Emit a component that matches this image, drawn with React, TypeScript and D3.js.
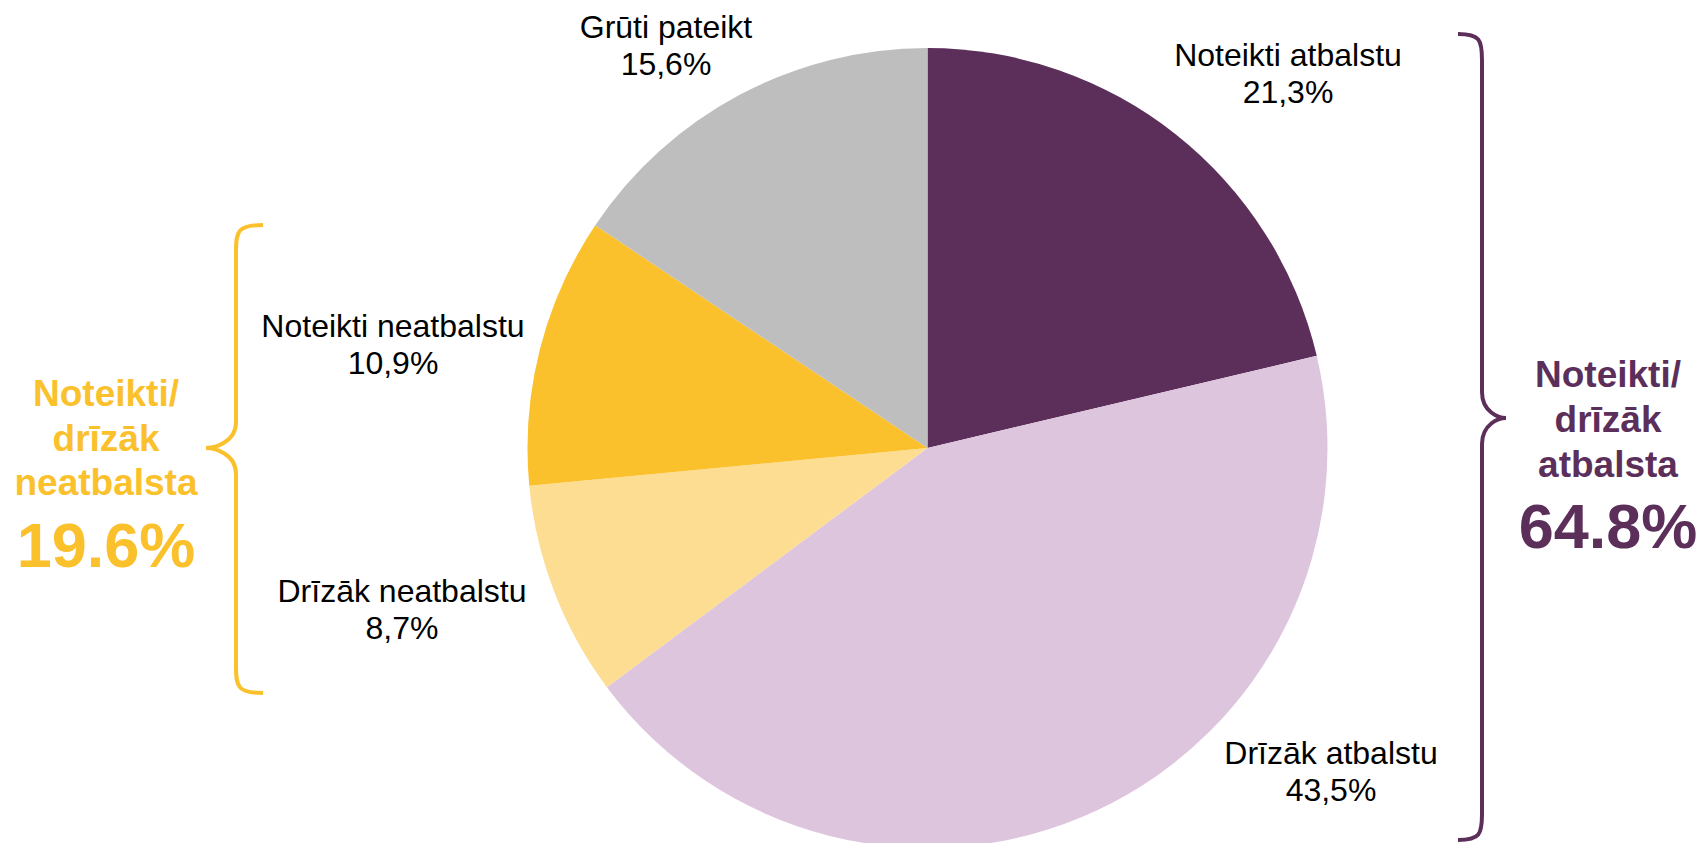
import React from "react";
import * as d3 from "d3";

// ---- data ----
const categories = [
  "Noteikti atbalstu",
  "Drīzāk atbalstu",
  "Drīzāk neatbalstu",
  "Noteikti neatbalstu",
  "Grūti pateikt",
];
const values = [21.3, 43.5, 8.7, 10.9, 15.6];
const valueLabels = ["21,3%", "43,5%", "8,7%", "10,9%", "15,6%"];
const groupSupportLines = ["Noteikti/", "drīzāk", "atbalsta"];
const groupSupportTotal = "64.8%";
const groupOpposeLines = ["Noteikti/", "drīzāk", "neatbalsta"];
const groupOpposeTotal = "19.6%";

// ---- styling / layout ----
const W = 1704;
const H = 843;
const colors = ["#5C2F5B", "#DEC5DE", "#FCDD92", "#FBC12D", "#BEBEBE"];
const PURPLE = "#5C2F5B";
const YELLOW = "#FBC12D";
const FONT = "'Liberation Sans', Arial, sans-serif";
const cx = 927.5;
const cy = 448;
const R = 400;
// label anchor (center x, first baseline y) per slice
const labelPos: [number, number][] = [
  [1288, 66],
  [1331, 764],
  [402, 602],
  [393, 337],
  [666, 38],
];

function bracePath(xEnd: number, xVert: number, xTip: number, top: number, mid: number, bottom: number) {
  const r = 26;
  const dirEnd = Math.sign(xEnd - xVert);
  const p = d3.path();
  p.moveTo(xEnd, top);
  p.bezierCurveTo(xVert + dirEnd * 2, top, xVert, top + 6, xVert, top + r);
  p.lineTo(xVert, mid - r);
  p.bezierCurveTo(xVert, mid - 6, xTip - (xTip - xVert) * 0.3, mid, xTip, mid);
  p.bezierCurveTo(xTip - (xTip - xVert) * 0.3, mid, xVert, mid + 6, xVert, mid + r);
  p.lineTo(xVert, bottom - r);
  p.bezierCurveTo(xVert, bottom - 6, xVert + dirEnd * 2, bottom, xEnd, bottom);
  return p.toString();
}

export default function App() {
  const pie = d3
    .pie<number>()
    .sort(null)
    .value((d) => d)
    .startAngle(0)
    .endAngle(2 * Math.PI);
  const arcs = pie(values);
  const arcGen = d3.arc<d3.PieArcDatum<number>>().innerRadius(0).outerRadius(R);

  return (
    <svg
      width={W}
      height={H}
      style={{ position: "absolute", left: 0, top: 0, background: "#fff" }}
      fontFamily={FONT}
    >
      <g transform={`translate(${cx},${cy})`}>
        {arcs.map((a, i) => (
          <path key={i} d={arcGen(a) || ""} fill={colors[i]} />
        ))}
      </g>
      {categories.map((c, i) => (
        <text key={c} textAnchor="middle" fontSize={32} fill="#000">
          <tspan x={labelPos[i][0]} y={labelPos[i][1]}>
            {c}
          </tspan>
          <tspan x={labelPos[i][0]} y={labelPos[i][1] + 37}>
            {valueLabels[i]}
          </tspan>
        </text>
      ))}

      {/* right brace: support group */}
      <path
        d={bracePath(1458, 1482, 1506, 34, 418, 840)}
        fill="none"
        stroke={PURPLE}
        strokeWidth={4}
      />
      <text textAnchor="middle" fill={PURPLE} fontWeight="bold">
        {groupSupportLines.map((l, i) => (
          <tspan key={i} x={1608} y={387 + i * 45} fontSize={37}>
            {l}
          </tspan>
        ))}
        <tspan x={1608} y={548} fontSize={63}>
          {groupSupportTotal}
        </tspan>
      </text>

      {/* left brace: oppose group */}
      <path
        d={bracePath(263, 236, 206, 225, 448, 693)}
        fill="none"
        stroke={YELLOW}
        strokeWidth={4}
      />
      <text textAnchor="middle" fill={YELLOW} fontWeight="bold">
        {groupOpposeLines.map((l, i) => (
          <tspan key={i} x={106} y={406 + i * 44.5} fontSize={37}>
            {l}
          </tspan>
        ))}
        <tspan x={106} y={567} fontSize={63}>
          {groupOpposeTotal}
        </tspan>
      </text>
    </svg>
  );
}
